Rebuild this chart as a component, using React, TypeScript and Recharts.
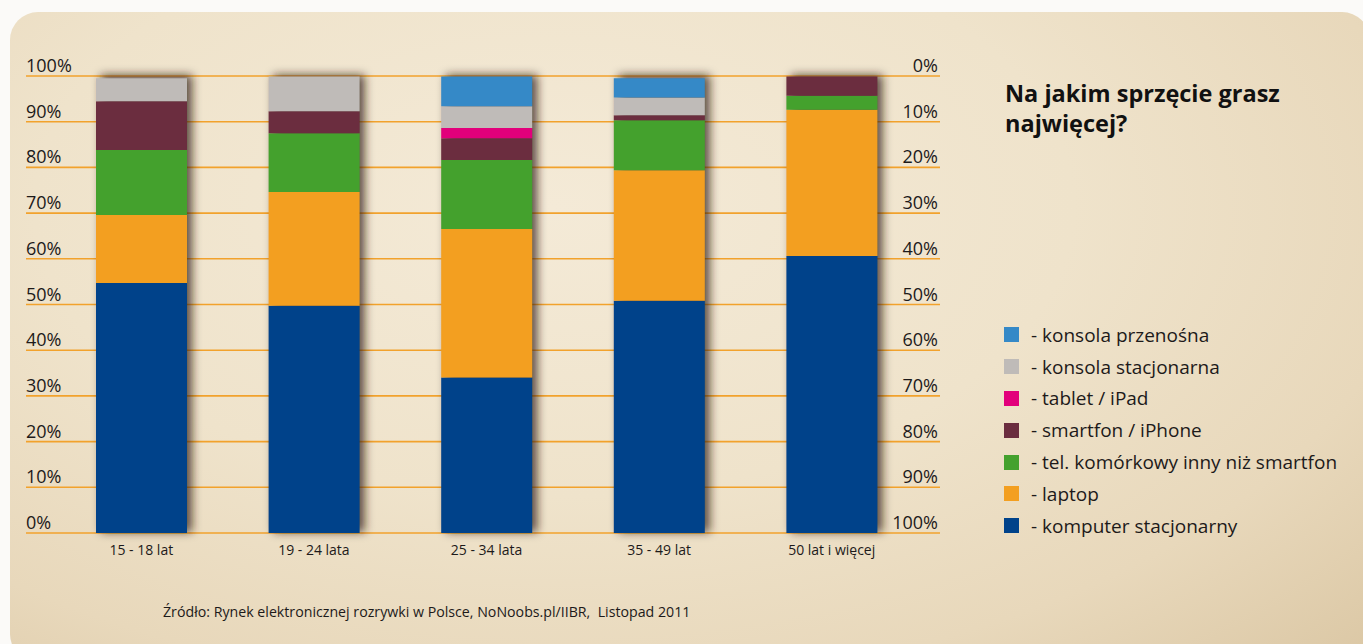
import React from 'react';
import { BarChart, Bar, XAxis, YAxis, CartesianGrid } from 'recharts';

const CATEGORIES = ['15 - 18 lat', '19 - 24 lata', '25 - 34 lata', '35 - 49 lat', '50 lat i więcej'];

const KOMPUTER = [54.7, 49.7, 34.0, 50.8, 60.6];
const LAPTOP = [14.9, 24.9, 32.5, 28.6, 32.0];
const TEL_INNY = [14.2, 12.9, 15.1, 10.9, 3.1];
const SMARTFON = [10.7, 4.8, 4.8, 1.1, 4.2];
const TABLET = [0, 0, 2.2, 0, 0];
const KONSOLA_STAC = [5.0, 7.6, 4.8, 3.9, 0];
const KONSOLA_PRZEN = [0, 0, 6.5, 4.2, 0];

const Y_TICKS = [0, 10, 20, 30, 40, 50, 60, 70, 80, 90, 100];

// stacking order, bottom to top
const SERIES = [
  { key: 'komputer', name: '- komputer stacjonarny', color: '#00428a', values: KOMPUTER },
  { key: 'laptop', name: '- laptop', color: '#f39f20', values: LAPTOP },
  { key: 'telInny', name: '- tel. komórkowy inny niż smartfon', color: '#44a12d', values: TEL_INNY },
  { key: 'smartfon', name: '- smartfon / iPhone', color: '#6b2d3f', values: SMARTFON },
  { key: 'tablet', name: '- tablet / iPad', color: '#e2007b', values: TABLET },
  { key: 'konsolaStac', name: '- konsola stacjonarna', color: '#bfbbb8', values: KONSOLA_STAC },
  { key: 'konsolaPrzen', name: '- konsola przenośna', color: '#3589c7', values: KONSOLA_PRZEN },
];

const data = CATEGORIES.map((cat, i) => {
  const row: Record<string, any> = { cat };
  SERIES.forEach(s => { row[s.key] = s.values[i]; });
  return row;
});

const FONT = '"Open Sans", sans-serif';
const TEXT = '#1d1a1a';
const PLOT_LEFT = 26;
const PLOT_RIGHT = 940;

// left scale reads bottom-up, the right one top-down (100 - value)
const renderYTick = ({ y, payload }: any) => (
  <g key={`y-${payload.value}`}>
    <text x={PLOT_LEFT} y={y - 4} textAnchor="start" fontSize={18} fill={TEXT} fontFamily={FONT}>
      {payload.value}%
    </text>
    <text x={PLOT_RIGHT - 2} y={y - 4} textAnchor="end" fontSize={18} fill={TEXT} fontFamily={FONT}>
      {100 - payload.value}%
    </text>
  </g>
);

const renderCatTick = ({ x, y, payload }: any) => (
  <text key={`c-${payload.value}`} x={x} y={y + 14} textAnchor="middle" fontSize={14} fill={TEXT} fontFamily={FONT}>
    {payload.value}
  </text>
);

export default function App() {
  return (
    <div style={{ position: 'absolute', left: 0, top: 0, width: 1363, height: 644, background: '#fbfaf8', overflow: 'hidden', fontFamily: FONT }}>
      {/* parchment card */}
      <div
        style={{
          position: 'absolute', left: 10, top: 12, width: 1360, height: 650, borderRadius: 28,
          background:
            'radial-gradient(ellipse at 40% 30%, #f4ead7 0%, #efe3cb 45%, #e8d8bb 75%, #dbc7a4 100%)',
        }}
      />
      <div style={{ position: 'absolute', left: 0, top: 0 }}>
        <BarChart width={1363} height={600} data={data} margin={{ top: 76, right: 1363 - PLOT_RIGHT, bottom: 37, left: PLOT_LEFT - 1 }}>
          <defs>
            <filter id="barShadow" x="-40%" y="-10%" width="180%" height="120%">
              <feOffset dx="5" dy="-1" in="SourceGraphic" result="off" />
              <feGaussianBlur in="off" stdDeviation="5" />
            </filter>
          </defs>
          <CartesianGrid horizontal vertical={false} stroke="#f2a22c" strokeWidth={1.6} />
          <XAxis dataKey="cat" axisLine={false} tickLine={false} height={30} padding={{ left: 29, right: 22 }} tick={renderCatTick} interval={0} />
          <YAxis domain={[0, 100]} ticks={Y_TICKS} width={1} axisLine={false} tickLine={false} tick={renderYTick} interval={0} />
          {SERIES.map((s, i) => (
            <Bar
              key={s.key}
              dataKey={s.key}
              stackId="a"
              fill={s.color}
              barSize={91}
              isAnimationActive={false}
              background={i === 0 ? { fill: 'rgba(45,30,15,0.75)', filter: 'url(#barShadow)' } : undefined}
            />
          ))}
        </BarChart>
      </div>

      <div style={{ position: 'absolute', left: 1005, top: 78, fontSize: 23.5, fontWeight: 700, lineHeight: '30px', color: '#111' }}>
        Na jakim sprzęcie grasz
        <br />
        najwięcej?
      </div>

      <div style={{ position: 'absolute', left: 1004, top: 319 }}>
        {[...SERIES].reverse().map(s => (
          <div key={s.key} style={{ display: 'flex', alignItems: 'center', height: 31.8 }}>
            <div style={{ width: 15, height: 15, background: s.color, marginRight: 12 }} />
            <span style={{ fontSize: 19, color: TEXT, whiteSpace: 'nowrap' }}>{s.name}</span>
          </div>
        ))}
      </div>

      <div style={{ position: 'absolute', left: 163, top: 602, fontSize: 14.2, color: TEXT, whiteSpace: 'pre' }}>
        Źródło: Rynek elektronicznej rozrywki w Polsce, NoNoobs.pl/IIBR,  Listopad 2011
      </div>
    </div>
  );
}
